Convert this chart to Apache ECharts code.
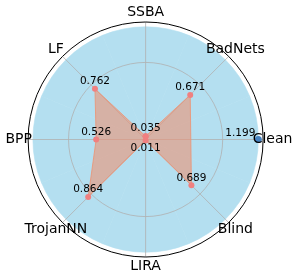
<!DOCTYPE html>
<html><head><meta charset="utf-8">
<script src="https://cdn.jsdelivr.net/npm/echarts@6/dist/echarts.min.js"></script>
<style>html,body{margin:0;padding:0;background:#fff}#c{width:299px;height:279px}</style>
</head><body><div id="c"></div>
<script>
// ---- data ----
const categories = ['SSBA', 'BadNets', 'Clean', 'Blind', 'LIRA', 'TrojanNN', 'BPP', 'LF'];
const attackValues = [0.035, 0.671, null, 0.689, 0.011, 0.864, 0.526, 0.762];
const cleanCategory = 'Clean';
const cleanValue = 1.199;
const radiusMax = 1.25;
const gridValue = 0.82;

// ---- style constants ----
const FONT = 'DejaVu Sans';
const LABEL_R = 1.35;

const cleanIdx = categories.indexOf(cleanCategory);
const attackPts = [];
attackValues.forEach((v, i) => {
  if (v === null) return;
  attackPts.push({
    value: [v, i],
    label: { position: categories[i] === 'LIRA' ? 'bottom' : 'top' }
  });
});
attackPts.push(Object.assign({}, attackPts[0], { label: { show: false } }));

const chart = echarts.init(document.getElementById('c'), null, { renderer: 'canvas' });
chart.setOption({
  animation: false,
  backgroundColor: '#fff',
  polar: { center: ['48.7%', '50%'], radius: 117.5 },
  angleAxis: {
    type: 'category',
    data: categories,
    boundaryGap: true,
    startAngle: 90 + 180 / categories.length,
    clockwise: true,
    z: 1.5,
    axisLine: { show: true, lineStyle: { color: '#000', width: 1 } },
    axisTick: { show: false, alignWithLabel: true },
    axisLabel: { show: false },
    splitLine: { show: true, lineStyle: { color: '#b0b0b0', width: 0.8 } }
  },
  radiusAxis: {
    type: 'value',
    min: 0,
    max: radiusMax,
    interval: gridValue,
    z: 1.5,
    axisLine: { show: false },
    axisTick: { show: false },
    axisLabel: { show: false },
    splitLine: { show: true, lineStyle: { color: ['rgba(0,0,0,0)', '#b0b0b0', 'rgba(0,0,0,0)'], width: 0.8 } }
  },
  series: [
    {
      type: 'bar',
      coordinateSystem: 'polar',
      z: 1,
      barCategoryGap: '0%',
      data: categories.map(() => cleanValue),
      itemStyle: { color: '#b4dff0', borderColor: '#b4dff0', borderWidth: 0.6 },
      silent: true
    },
    {
      type: 'line',
      coordinateSystem: 'polar',
      z: 2,
      data: attackPts,
      symbol: 'circle',
      symbolSize: 6,
      itemStyle: { color: '#f08080' },
      lineStyle: { color: 'rgba(236,148,118,0.85)', width: 1 },
      areaStyle: { color: 'rgba(236,148,118,0.88)' },
      label: {
        show: true,
        distance: -1,
        fontFamily: FONT,
        fontSize: 10.5,
        color: '#000',
        formatter: p => p.value[0].toFixed(3)
      }
    },
    {
      type: 'line',
      coordinateSystem: 'polar',
      z: 3,
      data: [[cleanValue, cleanIdx]],
      symbol: 'circle',
      symbolSize: 7,
      itemStyle: { color: '#4682c0' },
      label: {
        show: true,
        position: 'left',
        distance: -0.5,
        offset: [0, -6],
        fontFamily: FONT,
        fontSize: 10.5,
        color: '#000',
        formatter: p => p.value[0].toFixed(3)
      }
    },
    {
      type: 'scatter',
      coordinateSystem: 'polar',
      clip: false,
      z: 4,
      symbolSize: 0,
      silent: true,
      itemStyle: { opacity: 1 },
      data: categories.map((c, i) => [LABEL_R, i]),
      label: {
        show: true,
        position: 'inside',
        fontFamily: FONT,
        fontSize: 14,
        color: '#000',
        opacity: 1,
        formatter: p => categories[p.value[1]]
      }
    }
  ]
});
</script>
</body></html>
